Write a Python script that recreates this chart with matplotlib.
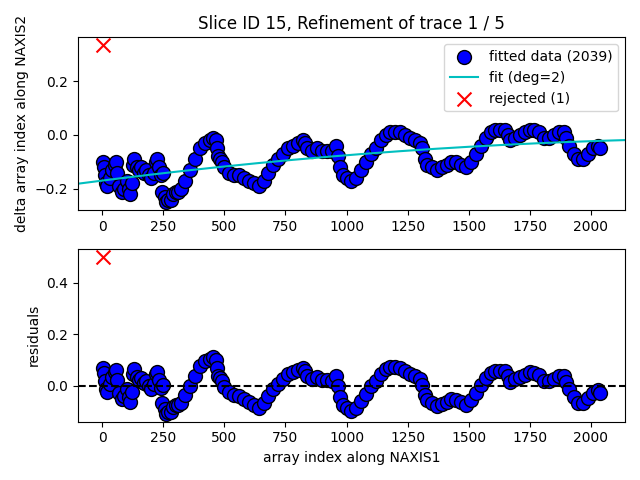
import numpy as np
import matplotlib
matplotlib.use("Agg")
import matplotlib.pyplot as plt

# trace samples (pixel index along NAXIS1, delta along NAXIS2)
xpix = [1, 5, 10, 15, 20, 30, 40, 50, 55, 60, 70, 80, 90, 100, 110, 115, 120, 125,
        130, 140, 150, 160, 170, 180, 190, 200, 210, 220, 225, 230, 240, 245, 250,
        255, 260, 270, 280, 290, 300, 310, 320, 340, 360, 380, 400, 420, 440, 455,
        465, 470, 475, 480, 490, 500, 520, 540, 560, 580, 600, 620, 640, 660, 680,
        700, 720, 740, 760, 780, 800, 820, 830, 840, 860, 880, 900, 920, 940, 955,
        965, 975, 985, 1000, 1020, 1040, 1060, 1080, 1100, 1120, 1140, 1160, 1180,
        1200, 1220, 1240, 1260, 1280, 1300, 1310, 1320, 1330, 1350, 1370, 1390,
        1410, 1430, 1450, 1470, 1490, 1510, 1530, 1550, 1570, 1590, 1610, 1630,
        1650, 1660, 1670, 1690, 1710, 1730, 1750, 1770, 1790, 1810, 1830, 1850,
        1870, 1890, 1900, 1910, 1930, 1950, 1970, 1990, 2010, 2030, 2039]
delta = [-0.10, -0.12, -0.15, -0.18, -0.19, -0.16, -0.13, -0.11, -0.10, -0.14,
         -0.19, -0.21, -0.20, -0.17, -0.20, -0.22, -0.18, -0.11, -0.09, -0.12,
         -0.13, -0.12, -0.14, -0.13, -0.15, -0.16, -0.14, -0.10, -0.09, -0.12,
         -0.15, -0.21, -0.14, -0.23, -0.25, -0.24, -0.24, -0.22, -0.21, -0.21,
         -0.20, -0.17, -0.13, -0.09, -0.05, -0.03, -0.02, -0.01, -0.02, -0.05,
         -0.08, -0.09, -0.10, -0.12, -0.14, -0.15, -0.15, -0.16, -0.17, -0.18,
         -0.19, -0.17, -0.14, -0.11, -0.09, -0.07, -0.05, -0.04, -0.03, -0.02,
         -0.03, -0.05, -0.06, -0.05, -0.06, -0.06, -0.06, -0.04, -0.08, -0.12,
         -0.15, -0.16, -0.17, -0.16, -0.13, -0.10, -0.07, -0.05, -0.02, 0.00,
         0.01, 0.01, 0.01, 0.00, -0.01, -0.02, -0.03, -0.05, -0.09, -0.11, -0.12,
         -0.13, -0.12, -0.11, -0.10, -0.10, -0.11, -0.12, -0.10, -0.07, -0.04,
         -0.01, 0.01, 0.02, 0.02, 0.02, 0.00, -0.02, -0.01, 0.00, 0.01, 0.02,
         0.02, 0.01, -0.01, -0.01, 0.00, 0.01, 0.01, -0.01, -0.04, -0.07, -0.09,
         -0.09, -0.07, -0.05, -0.04, -0.05]
rej_x = [3]
rej_y = [0.333]
n_fitted = 2039
deg = 2

xpix = np.array(xpix, dtype=float)
delta = np.array(delta)
coef = np.polyfit(xpix, delta, deg)
resid = delta - np.polyval(coef, xpix)
rej_resid = np.array(rej_y) - np.polyval(coef, rej_x)

xall = np.concatenate([xpix, rej_x])
span = xall.max() - xall.min()
xlim = (xall.min() - 0.05 * span, xall.max() + 0.05 * span)
xfit = np.linspace(xlim[0], xlim[1], 200)

fig, (ax1, ax2) = plt.subplots(2, 1, figsize=(6.4, 4.8), dpi=100)

ax1.scatter(xpix, delta, s=100, c='b', edgecolors='k', label=f'fitted data ({n_fitted})')
ax1.plot(xfit, np.polyval(coef, xfit), 'c-', label=f'fit (deg={deg})')
ax1.scatter(rej_x, rej_y, s=100, marker='x', c='r', label=f'rejected ({len(rej_x)})')
ax1.set_xlim(xlim)
ax1.set_ylabel('delta array index along NAXIS2')
ax1.set_title('Slice ID 15, Refinement of trace 1 / 5')
ax1.legend(loc='upper right')

ax2.scatter(xpix, resid, s=100, c='b', edgecolors='k')
ax2.scatter(rej_x, rej_resid, s=100, marker='x', c='r')
ax2.axhline(0, color='k', linestyle='--')
ax2.set_xlim(xlim)
ax2.set_xlabel('array index along NAXIS1')
ax2.set_ylabel('residuals')

plt.tight_layout()
plt.savefig('out.png')
